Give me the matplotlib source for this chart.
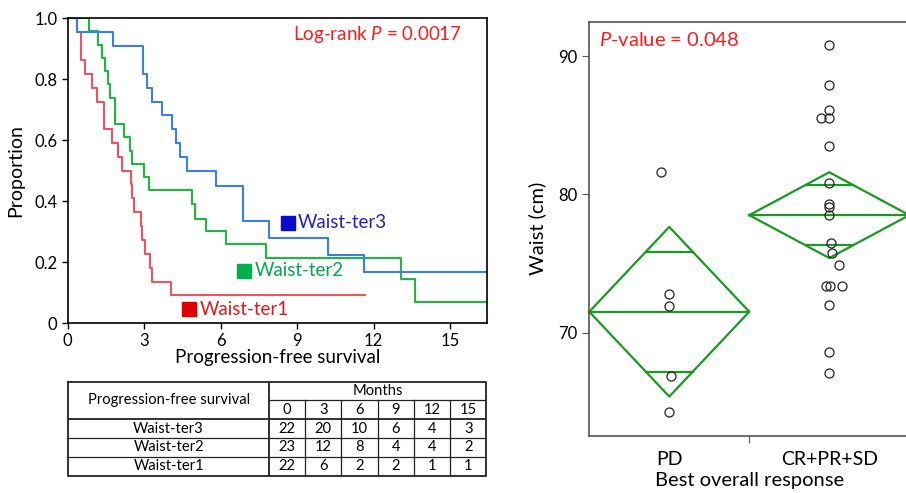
import matplotlib
matplotlib.use("Agg")
import matplotlib.pyplot as plt
import numpy as np

plt.rcParams["font.family"] = ["Lato", "DejaVu Sans"]
plt.rcParams["mathtext.fontset"] = "custom"
plt.rcParams["mathtext.rm"] = "Lato"
plt.rcParams["mathtext.it"] = "Lato:italic"

# Kaplan-Meier step curves (month of each step, survival after step)
TER3_TIME = [0, 0.35, 1.79, 2.96, 3.10, 3.32, 3.69, 4.08, 4.24, 4.40, 4.69, 5.82, 6.89, 7.90, 10.23, 11.63]
TER3_SURV = [1.0, 0.955, 0.909, 0.818, 0.773, 0.727, 0.682, 0.636, 0.591, 0.545, 0.500, 0.450, 0.335, 0.279, 0.223, 0.167]
TER3_END = 16.5

TER2_TIME = [0, 0.85, 1.20, 1.33, 1.46, 1.57, 1.66, 1.85, 2.21, 2.44, 2.54, 3.00, 3.19, 4.86, 4.99, 5.42, 6.23, 7.80, 13.07, 13.62]
TER2_SURV = [1.0, 0.957, 0.913, 0.870, 0.826, 0.783, 0.739, 0.652, 0.609, 0.565, 0.522, 0.478, 0.435, 0.389, 0.343, 0.303, 0.258, 0.215, 0.143, 0.069]
TER2_END = 16.5

TER1_TIME = [0, 0.35, 0.52, 0.68, 0.97, 1.14, 1.44, 1.75, 1.98, 2.12, 2.47, 2.52, 2.62, 2.86, 2.90, 3.05, 3.23, 3.29, 4.04]
TER1_SURV = [1.0, 0.955, 0.864, 0.818, 0.773, 0.727, 0.636, 0.591, 0.545, 0.500, 0.455, 0.409, 0.364, 0.318, 0.273, 0.227, 0.182, 0.136, 0.091]
TER1_END = 11.66

# numbers at risk
TABLE_MONTHS = [0, 3, 6, 9, 12, 15]
TABLE_GROUPS = ["Waist-ter3", "Waist-ter2", "Waist-ter1"]
AT_RISK_TER3 = [22, 20, 10, 6, 4, 3]
AT_RISK_TER2 = [23, 12, 8, 4, 4, 2]
AT_RISK_TER1 = [22, 6, 2, 2, 1, 1]

# waist by best overall response
RESP_CATS = ["PD", "CR+PR+SD"]
PD_WAIST = [81.6, 72.8, 71.9, 66.9, 64.3]
PD_JITTER = [-0.05, 0, 0, 0.01, 0]
CR_WAIST = [90.8, 87.9, 86.1, 85.5, 85.5, 83.5, 80.8, 79.3, 79.1, 78.5, 76.5, 75.8,
            74.9, 73.4, 73.4, 73.4, 72.0, 68.6, 67.1]
CR_JITTER = [0, 0, 0, -0.05, 0, 0, 0, 0, 0, 0, 0.01, 0.02, 0.06, -0.02, 0.005, 0.08, 0, 0, 0]
DIAMOND_MEAN = [71.52, 78.5]
DIAMOND_CI = [6.13, 3.1]

BLUE, GREEN, RED = "#3a7fe6", "#1fb83f", "#f2525e"
DIAMOND_GREEN = "#1a9a22"

fig = plt.figure(figsize=(9.06, 4.93), dpi=100)

# ---- Kaplan-Meier ----
ax = fig.add_axes([0.0747, 0.3448, 0.4628, 0.618])
for t, s, end, c in [(TER1_TIME, TER1_SURV, TER1_END, RED),
                     (TER2_TIME, TER2_SURV, TER2_END, GREEN),
                     (TER3_TIME, TER3_SURV, TER3_END, BLUE)]:
    ax.step(list(t) + [end], list(s) + [s[-1]], where="post", color=c, lw=1.5)

ax.set_xlim(0, 16.45)
ax.set_ylim(0, 1.0)
ax.set_xticks(TABLE_MONTHS)
ax.set_yticks([0, 0.2, 0.4, 0.6, 0.8, 1.0])
ax.set_yticklabels(["0", "0.2", "0.4", "0.6", "0.8", "1.0"])
ax.tick_params(labelsize=12, length=4, width=1, direction="out")
for sp in ax.spines.values():
    sp.set_linewidth(1.2)
ax.set_ylabel("Proportion", fontsize=14, labelpad=7)
ax.set_xlabel("Progression-free survival", fontsize=13.5, labelpad=0)
ax.text(0.94, 0.948, r"Log-rank $\mathit{P}$ = 0.0017", transform=ax.transAxes,
        ha="right", va="center", color="#ff1a1a", fontsize=13.5)

for (mx, my, tx), lab, sc, tc in [((8.65, 0.329, 9.03), "Waist-ter3", "#0a0acc", "#2323c4"),
                                  ((6.91, 0.171, 7.35), "Waist-ter2", "#00b050", "#00a84a"),
                                  ((4.76, 0.045, 5.19), "Waist-ter1", "#e00000", "#e01818")]:
    ax.plot(mx, my, marker="s", ms=10.5, color=sc, ls="none")
    ax.text(tx, my, lab, color=tc, fontsize=13.5, va="center", ha="left")

# ---- number at risk table ----
tb = fig.add_axes([0.0754, 0.0351, 0.4614, 0.1907])
tb.set_xlim(0, 1)
tb.set_ylim(5, 0)
tb.axis("off")
first_w = 0.48
col_w = (1 - first_w) / len(TABLE_MONTHS)
lc = "#222222"
fs = 10.6
tb.plot([0, 1, 1, 0, 0], [0, 0, 5, 5, 0], color=lc, lw=1.3, clip_on=False)
tb.plot([first_w, first_w], [0, 5], color=lc, lw=1.3)
tb.plot([first_w, 1], [1, 1], color=lc, lw=0.9)
for r in (2, 3, 4):
    tb.plot([0, 1], [r, r], color=lc, lw=1.3 if r == 2 else 0.9)
for i in range(1, len(TABLE_MONTHS)):
    x = first_w + i * col_w
    tb.plot([x, x], [1, 5], color=lc, lw=0.9)
tb.text(first_w / 2, 1.0, "Progression-free survival", ha="center", va="center", fontsize=fs)
tb.text((first_w + 1) / 2, 0.5, "Months", ha="center", va="center", fontsize=fs)
for i, m in enumerate(TABLE_MONTHS):
    tb.text(first_w + (i + 0.5) * col_w, 1.5, str(m), ha="center", va="center", fontsize=fs)
for r, (g, vals) in enumerate(zip(TABLE_GROUPS, [AT_RISK_TER3, AT_RISK_TER2, AT_RISK_TER1])):
    tb.text(first_w / 2, 2.5 + r, g, ha="center", va="center", fontsize=fs)
    for i, v in enumerate(vals):
        tb.text(first_w + (i + 0.5) * col_w, 2.5 + r, str(v), ha="center", va="center", fontsize=fs)

# ---- waist by response ----
bx = fig.add_axes([0.6504, 0.1162, 0.3532, 0.8398])
centers = np.arange(len(RESP_CATS)) + 0.5
for c, m, ci in zip(centers, DIAMOND_MEAN, DIAMOND_CI):
    bx.plot([c - 0.5, c, c + 0.5, c, c - 0.5], [m, m + ci, m, m - ci, m],
            color=DIAMOND_GREEN, lw=1.6, clip_on=False)
    bx.plot([c - 0.5, c + 0.5], [m, m], color=DIAMOND_GREEN, lw=1.6, clip_on=False)
    off = ci / np.sqrt(2)
    hw = 0.5 * (1 - 1 / np.sqrt(2))
    for sgn in (1, -1):
        bx.plot([c - hw, c + hw], [m + sgn * off] * 2, color=DIAMOND_GREEN, lw=1.6)

for c, vals, jit in [(centers[0], PD_WAIST, PD_JITTER), (centers[1], CR_WAIST, CR_JITTER)]:
    bx.plot(c + np.array(jit), vals, ls="none", marker="o", ms=6.5, mfc="none",
            mec="#222222", mew=0.9)

bx.set_xlim(0, 2)
bx.set_ylim(62.56, 92.48)
bx.set_yticks([70, 80, 90])
bx.set_xticks([1])
bx.set_xticklabels([""])
bx.set_xticks(centers, minor=True)
bx.set_xticklabels(RESP_CATS, minor=True)
bx.tick_params(axis="x", which="minor", length=0, labelsize=14, pad=11)
bx.tick_params(axis="x", which="major", length=5, color="#555555")
bx.tick_params(axis="y", labelsize=12, length=5, color="#555555")
bx.spines["right"].set_visible(False)
for s in ("left", "top", "bottom"):
    bx.spines[s].set_color("#555555")
    bx.spines[s].set_linewidth(1.2)
bx.set_ylabel("Waist (cm)", fontsize=14.5, labelpad=9)
bx.set_xlabel("Best overall response", fontsize=14.5, labelpad=3)
bx.text(0.03, 0.956, r"$\mathit{P}$-value = 0.048", transform=bx.transAxes,
        ha="left", va="center", color="#ff1a1a", fontsize=14.5)

fig.savefig("out.png", dpi=100)
